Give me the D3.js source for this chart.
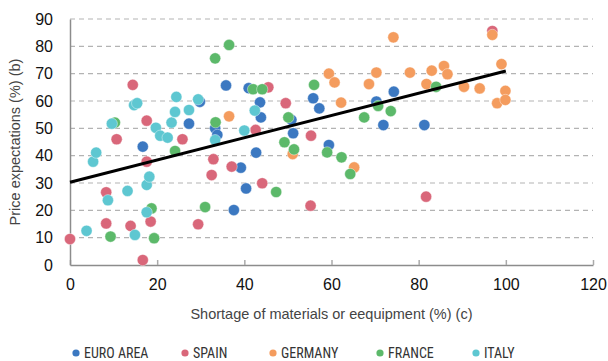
<!DOCTYPE html>
<html>
<head>
<meta charset="utf-8">
<script src="https://cdn.jsdelivr.net/npm/d3@7"></script>
<style>
  body { margin: 0; background: #fff; }
  svg { display: block; font-family: "Liberation Sans", Arial, sans-serif; }
</style>
</head>
<body>
<div id="chart"></div>
<script>
// shortage of materials (x, %) vs price expectations (y, %)
const euroArea = [
  [16.7, 43.3], [27.3, 51.7], [29.8, 59.7], [33.3, 50.0], [33.8, 47.6], [35.8, 65.7],
  [37.6, 20.1], [39.2, 35.6], [40.4, 28.0], [41.0, 64.7], [42.7, 41.1], [43.6, 59.5],
  [43.8, 54.0], [50.8, 53.1], [51.2, 48.2], [55.8, 61.0], [57.2, 57.3], [59.4, 43.9],
  [70.3, 59.8], [71.9, 51.2], [74.3, 63.4], [81.3, 51.2]
];
const spain = [
  [0, 9.5], [8.3, 26.6], [8.3, 15.2], [10.7, 46.0], [13.9, 14.3], [14.4, 65.9],
  [16.7, 1.8], [17.6, 52.8], [17.6, 37.8], [18.5, 15.9], [25.8, 46.0], [29.4, 14.9],
  [32.5, 32.9], [32.9, 38.7], [37.1, 36.0], [42.6, 49.4], [44.1, 29.9], [45.5, 65.0],
  [49.5, 59.2], [55.2, 21.7], [55.3, 47.3], [81.7, 25.0], [96.9, 85.6]
];
const germany = [
  [36.5, 54.4], [51.1, 40.6], [59.4, 70.0], [60.7, 66.8], [62.2, 59.4], [65.2, 35.7],
  [68.6, 66.2], [70.3, 70.4], [74.2, 83.3], [78.0, 70.4], [81.8, 66.2], [83.0, 71.1],
  [85.8, 72.8], [86.6, 69.8], [90.4, 65.2], [94.0, 64.6], [96.9, 84.2], [98.0, 59.2],
  [99.0, 73.5], [99.9, 63.7], [99.9, 60.4]
];
const france = [
  [9.3, 10.4], [10.3, 52.1], [18.7, 20.7], [19.3, 9.8], [24.1, 41.7], [31.0, 21.2],
  [33.3, 75.6], [33.4, 52.2], [36.5, 80.5], [42.0, 64.3], [44.1, 64.3], [47.3, 26.7],
  [49.2, 44.9], [50.1, 54.0], [51.4, 42.3], [56.0, 65.9], [59.0, 41.2], [62.3, 39.4],
  [64.3, 33.3], [67.5, 54.0], [70.7, 58.2], [73.6, 56.3], [84.0, 65.2]
];
const italy = [
  [3.8, 12.5], [5.3, 37.8], [6.0, 41.1], [8.7, 23.7], [9.6, 51.7], [13.2, 27.1],
  [14.7, 58.5], [14.9, 11.0], [15.4, 59.2], [17.6, 19.3], [17.6, 29.3], [18.2, 32.3],
  [19.7, 50.2], [20.7, 47.3], [22.4, 46.6], [23.3, 52.1], [24.1, 56.0], [24.4, 61.5],
  [27.3, 56.7], [29.4, 60.6], [33.3, 45.7], [40.0, 49.2], [42.4, 56.5]
];
const trendLine = [[0, 30.3], [100, 71.0]];

const seriesNames = ['EURO AREA', 'SPAIN', 'GERMANY', 'FRANCE', 'ITALY'];
const seriesColours = ['#3b78c1', '#d9677a', '#f49c5e', '#5cb96a', '#5ec7d1'];
const xTicks = [0, 20, 40, 60, 80, 100, 120];
const yTicks = [0, 10, 20, 30, 40, 50, 60, 70, 80, 90];

const series = [euroArea, spain, germany, france, italy].map((values, i) => ({
  name: seriesNames[i], colour: seriesColours[i], values
}));

const W = 608, H = 361;
const margin = { top: 19, right: 15, bottom: 96, left: 70 };
const width = W - margin.left - margin.right;
const height = H - margin.top - margin.bottom;

const svg = d3.select('#chart').append('svg').attr('width', W).attr('height', H);
const g = svg.append('g').attr('transform', `translate(${margin.left},${margin.top})`);

const x = d3.scaleLinear().domain([0, 120]).range([0, width]);
const y = d3.scaleLinear().domain([0, 90]).range([height, 0]);

// dashed grid
g.selectAll('.grid')
  .data(yTicks.filter(d => d > 0))
  .enter().append('line')
  .attr('x1', 0).attr('x2', width)
  .attr('y1', d => y(d)).attr('y2', d => y(d))
  .attr('stroke', '#b3b3b3').attr('stroke-width', 1.2)
  .attr('stroke-dasharray', '5,4');

// axes
const xAxis = g.append('g')
  .attr('transform', `translate(0,${height})`)
  .call(d3.axisBottom(x).tickValues(xTicks).tickSizeInner(-5).tickSizeOuter(0).tickPadding(14));
xAxis.select('.domain').attr('stroke', '#8c8c8c').attr('stroke-width', 1.5);
xAxis.selectAll('.tick line').attr('stroke', '#aaa').attr('stroke-width', 1.5);
xAxis.selectAll('.tick text').attr('font-size', 16).attr('fill', '#111');

const yAxis = g.append('g')
  .call(d3.axisLeft(y).tickValues(yTicks).tickSize(0).tickPadding(17));
yAxis.select('.domain').attr('stroke', '#8c8c8c').attr('stroke-width', 1.5);
yAxis.selectAll('.tick text').attr('font-size', 16).attr('fill', '#111');

// points
series.forEach(s => {
  g.append('g').selectAll('circle')
    .data(s.values)
    .enter().append('circle')
    .attr('cx', d => x(d[0]))
    .attr('cy', d => y(d[1]))
    .attr('r', 5.6)
    .attr('fill', s.colour)
    .attr('stroke', '#fff').attr('stroke-width', 0.4);
});

// trend line
g.append('path')
  .datum(trendLine)
  .attr('d', d3.line().x(d => x(d[0])).y(d => y(d[1])))
  .attr('stroke', '#000').attr('stroke-width', 3).attr('fill', 'none');

// axis titles
svg.append('text')
  .attr('x', margin.left + x(60)).attr('y', 319)
  .attr('text-anchor', 'middle').attr('font-size', 14.5).attr('fill', '#444')
  .text('Shortage of materials or eequipment (%) (c)');
svg.append('text')
  .attr('transform', 'translate(20,142) rotate(-90)')
  .attr('text-anchor', 'middle').attr('font-size', 14.5).attr('fill', '#444')
  .text('Price expectations (%) (b)');

// legend
const legendX = [76, 185, 273, 380, 476];
const legend = svg.append('g').selectAll('g')
  .data(series)
  .enter().append('g')
  .attr('transform', (d, i) => `translate(${legendX[i]},353)`);
legend.append('circle').attr('r', 3.6).attr('fill', d => d.colour);
legend.append('text')
  .attr('x', 8).attr('y', 5)
  .attr('font-family', '"Liberation Sans Narrow", "Roboto Condensed", Arial, sans-serif')
  .attr('font-size', 14).attr('fill', '#333')
  .text(d => d.name);
</script>
</body>
</html>
